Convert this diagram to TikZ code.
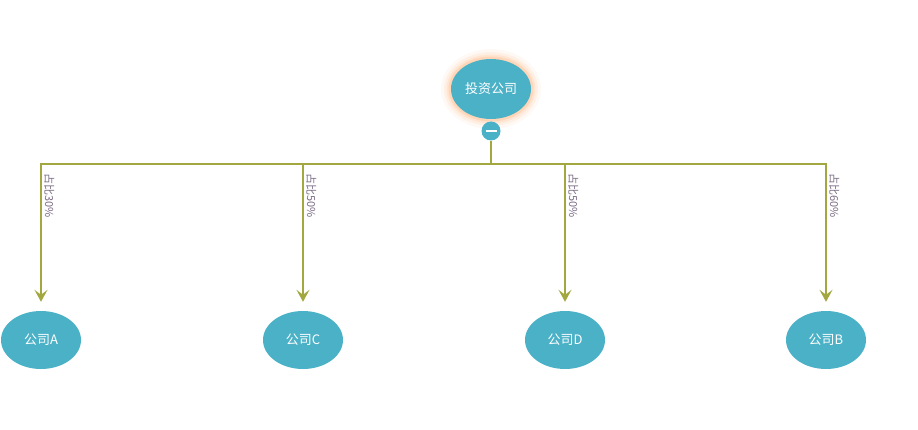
\documentclass[tikz,border=0pt]{standalone}
\usepackage{fontspec}
\setmainfont{Noto Sans CJK SC}
\usetikzlibrary{arrows.meta,shapes.geometric}
\definecolor{teal}{HTML}{4BB1C7}
\definecolor{olive}{HTML}{A2A83F}
\definecolor{glow}{HTML}{FFB27A}
\definecolor{tag}{HTML}{7C6C86}
\tikzset{
  firm/.style={ellipse,fill=teal,text=white,minimum width=80pt,minimum height=58pt,
    inner sep=0pt,font=\fontsize{13}{13}\selectfont},
  link/.style={olive,line width=1.6pt},
  arr/.style={link,-{Stealth[length=12pt,width=13pt,inset=5pt]},shorten >=9pt},
  share/.style={tag,rotate=-90,anchor=south west,inner sep=1pt,font=\fontsize{11}{11}\selectfont},
}

\begin{document}
\begin{tikzpicture}[x=1pt,y=-1pt]
\useasboundingbox (0,0) rectangle (918,430);

% ---------------------------------------------------------------- root
\foreach \g/\o in {10/0.08,7/0.12,4.5/0.18,2.5/0.3}
  \fill[glow,opacity=\o] (491,89) ellipse ({40+\g} and {30+\g});
\node[firm,minimum width=80pt,minimum height=60pt] (root) at (491,89) {投资公司};

% ---------------------------------------------------------------- fold button
\node[circle,fill=teal,minimum size=19pt,inner sep=0pt] (fold) at (491,131) {};
\draw[white,line width=1.8pt] ([xshift=-5.5pt]fold.center) -- ([xshift=5.5pt]fold.center);

% ---------------------------------------------------------------- companies
\node[firm] (ca) at (41,340) {公司A};
\node[firm] (cc) at (303,340) {公司C};
\node[firm] (cd) at (565,340) {公司D};
\node[firm] (cb) at (826,340) {公司B};

% ---------------------------------------------------------------- connectors
\coordinate (bus) at (491,164);
\draw[link] (fold) -- (bus);
\draw[arr] (bus) -| (ca.north);
\draw[arr] (bus) -| (cc.north);
\draw[arr] (bus) -| (cd.north);
\draw[arr] (bus) -| (cb.north);

% ---------------------------------------------------------------- shares
\node[share] at (43,172) {占比30\%};
\node[share] at (305,172) {占比50\%};
\node[share] at (567,172) {占比50\%};
\node[share] at (828,172) {占比60\%};

\end{tikzpicture}
\end{document}
